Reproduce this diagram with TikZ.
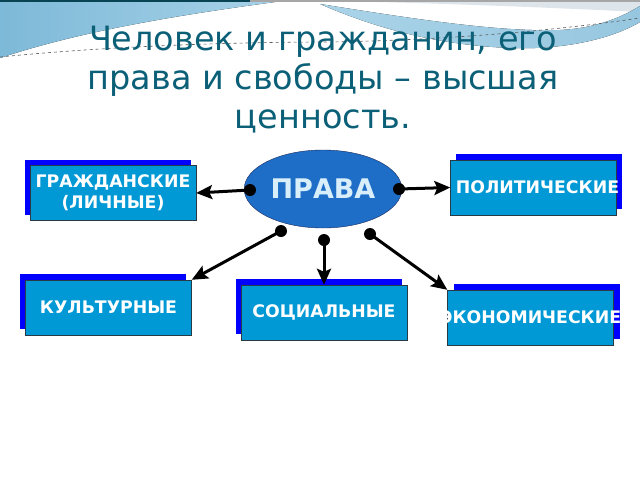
\documentclass[tikz,border=0pt]{standalone}
\usepackage{fontspec}
\setmainfont{DejaVu Sans}
\usetikzlibrary{arrows.meta,shadows,shapes.geometric,positioning}

\definecolor{titleteal}{HTML}{0B6078}
\definecolor{boxblue}{HTML}{0099D5}
\definecolor{boxedge}{HTML}{2A3A44}
\definecolor{shadowblue}{HTML}{0000FF}
\definecolor{ovalblue}{HTML}{1E6EC8}
\definecolor{ovaledge}{HTML}{1A2A5A}
\definecolor{ovaltext}{HTML}{D8EEFA}
\definecolor{waveL}{HTML}{7DB9D8}
\definecolor{waveR}{HTML}{A9D3E8}
\definecolor{wavegray}{HTML}{DDE4EA}

\begin{document}
\begin{tikzpicture}[x=1pt,y=-1pt,
  box/.style={draw=boxedge,fill=boxblue,minimum width=166pt,minimum height=55pt,
    inner sep=0pt,align=center,text=white,font=\bfseries\fontsize{17.3}{21}\selectfont,
    copy shadow={shadow xshift=#1,shadow yshift=6pt,fill=shadowblue,draw=none}},
  dot/.style={circle,fill=black,inner sep=0pt,minimum size=12pt},
  link/.style={line width=3pt,-{Stealth[length=16pt,width=14pt,inset=3pt]}}]
\useasboundingbox (0,0) rectangle (640,480);
\fill[white] (0,0) rectangle (640,480);
% header waves
\fill[left color=waveL,right color=waveR] (0,0) -- (290,0) .. controls (200,12) and (90,28) .. (0,58) -- cycle;
\fill[wavegray] (290,0) -- (640,0) -- (640,12) .. controls (520,6) and (400,2) .. (290,0) -- cycle;
\fill[left color=waveR,right color=waveL!80] (320,4) .. controls (420,20) and (500,32) .. (560,30)
  .. controls (600,28) and (625,15) .. (640,6) -- (640,22) .. controls (610,40) and (560,50) .. (510,48)
  .. controls (440,45) and (380,30) .. (320,4) -- cycle;
\draw[gray!70!black,dashed,line width=0.6pt] (0,57) .. controls (120,45) and (250,42) .. (330,42)
  .. controls (450,40) and (560,30) .. (640,18);
\fill[titleteal!70!black] (0,0) rectangle (250,2);
\fill[gray!70] (250,0) rectangle (640,2);

\node[font=\fontsize{33.5}{39}\selectfont,text=titleteal,align=center] (title) at (323,80)
  {Человек и гражданин, его\\права и свободы – высшая\\ценность.};

\node[ellipse,draw=ovaledge,fill=ovalblue,minimum width=143pt,minimum height=78pt,
  text=ovaltext,font=\bfseries\fontsize{27}{30}\selectfont] (prava) at (323,189) {ПРАВА};

\node[box=-5pt] (grazh) at (113,193) {ГРАЖДАНСКИЕ\\(ЛИЧНЫЕ)};
\node[box=5pt] (polit) at (533.5,187.5) {\makebox[0pt]{\hspace*{8pt}ПОЛИТИЧЕСКИЕ}};
\node[box=-6pt] (kult) at (108.5,307.5) {КУЛЬТУРНЫЕ};
\node[box=-5pt] (soc) at (324,312.5) {СОЦИАЛЬНЫЕ};
\node[box=6pt] (ekon) at (530.5,317.5) {\makebox[0pt]{ЭКОНОМИЧЕСКИЕ}};

\node[dot] (d_l) at (250,190) {};
\node[dot] (d_r) at (399,189) {};
\node[dot] (d_bl) at (281,231) {};
\node[dot] (d_b) at (324,240) {};
\node[dot] (d_br) at (370,234) {};

\draw[link] (d_l.center) -- (grazh.east);
\draw[link] (d_r.center) -- (polit.west);
\draw[link] (d_bl.center) -- (kult.north east);
\draw[link] (d_b.center) -- (soc.north);
\draw[link] (d_br.center) -- (ekon.north west);
\end{tikzpicture}
\end{document}
